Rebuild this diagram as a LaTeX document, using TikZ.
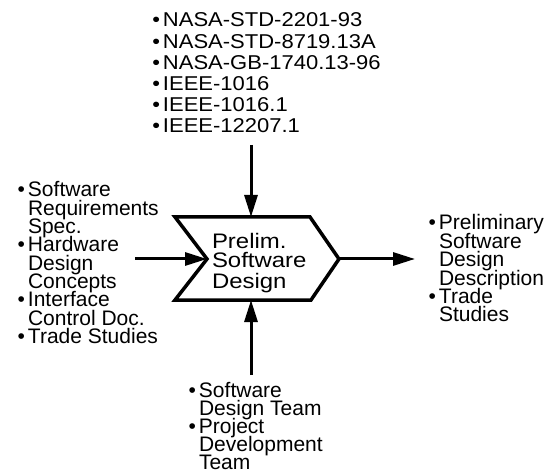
\documentclass[tikz,border=0pt]{standalone}
\usepackage{fontspec}
\setmainfont{Liberation Sans}
\newfontfamily\topfont[FakeStretch=1.1]{Liberation Sans}
\newfontfamily\boxfont[FakeStretch=1.14]{Liberation Sans}
\usetikzlibrary{arrows.meta}
\newcommand\bul{\llap{\textbullet\hspace{3pt}}}
\newcommand\vlist[2]{\vtop{\baselineskip=#1\lineskiplimit=-100pt\lineskip=0pt\relax #2}}
\begin{document}
\begin{tikzpicture}[x=1pt,y=-1pt,
  arr/.style={line width=3pt,-{Triangle[length=22pt,width=13pt]}},
  lst/.style={anchor=base west,inner sep=0pt,outer sep=0pt},
  chevline/.style={line width=3.5pt,line join=miter}]
\useasboundingbox (0,0) rectangle (549,473);
\fill[white] (0,0) rectangle (549,473);
% chevron outline
\coordinate (c-tl) at (175,217);
\coordinate (c-tr) at (310,217);
\coordinate (c-tip) at (339,259);
\coordinate (c-br) at (311,300);
\coordinate (c-bl) at (175,300);
\coordinate (c-notch) at (207,259);
\coordinate (c-top) at (251,217);
\coordinate (c-bot) at (251,300);
\draw[chevline] (c-tl) -- (c-tr) -- (c-tip) -- (c-br) -- (c-bl) -- (c-notch) -- cycle;
\node[lst,font=\boxfont\fontsize{21}{20}\selectfont] (chev) at (212,248)
  {\vlist{20pt}{\hbox{Prelim.}\hbox{Software}\hbox{Design}}};
% top list
\node[lst,font=\topfont\fontsize{20}{21.2}\selectfont] (std) at (163,27)
  {\vlist{21.2pt}{\hbox{\bul NASA-STD-2201-93}\hbox{\bul NASA-STD-8719.13A}\hbox{\bul NASA-GB-1740.13-96}\hbox{\bul IEEE-1016}\hbox{\bul IEEE-1016.1}\hbox{\bul IEEE-12207.1}}};
% left list
\node[lst,font=\fontsize{21}{18.3}\selectfont] (inputs) at (28,197)
  {\vlist{18.3pt}{\hbox{\bul Software}\hbox{Requirements}\hbox{Spec.}\hbox{\bul Hardware}\hbox{Design}\hbox{Concepts}\hbox{\bul Interface}\hbox{Control Doc.}\hbox{\bul Trade Studies}}};
% right list
\node[lst,font=\fontsize{21}{18.4}\selectfont] (outputs) at (439,230)
  {\vlist{18.4pt}{\hbox{\bul Preliminary}\hbox{Software}\hbox{Design}\hbox{Description}\hbox{\bul Trade}\hbox{Studies}}};
% bottom list
\node[lst,font=\fontsize{21}{18.2}\selectfont] (mech) at (199,397)
  {\vlist{18.2pt}{\hbox{\bul Software}\hbox{Design Team}\hbox{\bul Project}\hbox{Development}\hbox{Team}}};
% arrows
\coordinate (std-out) at (251,145);
\coordinate (in-l) at (135,259);
\coordinate (out-r) at (415,259);
\coordinate (in-b) at (251,375);
\draw[arr] (std-out) -- (c-top);
\draw[arr] (in-l) -- (c-notch);
\draw[arr] (c-tip) -- (out-r);
\draw[arr] (in-b) -- (c-bot);
\end{tikzpicture}
\end{document}
